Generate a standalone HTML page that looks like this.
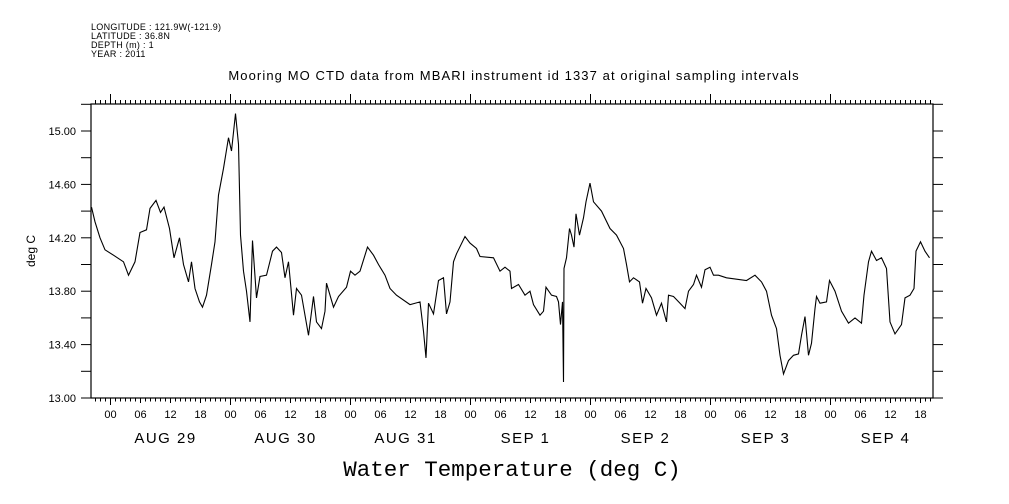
<!DOCTYPE html>
<html><head><meta charset="utf-8"><style>
body{margin:0;background:#fff;}
svg{display:block;font-family:"Liberation Sans",sans-serif;}
</style></head><body>
<svg id="chart" width="1009" height="504" viewBox="0 0 1009 504">
<g font-size="9" fill="#000" letter-spacing="0.3">
<text x="91" y="30">LONGITUDE : 121.9W(-121.9)</text>
<text x="91" y="39">LATITUDE : 36.8N</text>
<text x="91" y="48">DEPTH (m) : 1</text>
<text x="91" y="57">YEAR : 2011</text>
</g>
<text x="514" y="80" font-size="13" letter-spacing="1.1" text-anchor="middle">Mooring MO CTD data from MBARI instrument id 1337 at original sampling intervals</text>
<text transform="translate(35,251) rotate(-90)" font-size="12" text-anchor="middle">deg C</text>
<text x="512" y="476" font-family="Liberation Mono, monospace" font-size="22.5" text-anchor="middle">Water Temperature (deg C)</text>
<rect x="91" y="104" width="842" height="294" fill="none" stroke="#000" stroke-width="1.2"/>
<g id="axes"></g>
<polyline id="series" fill="none" stroke="#000" stroke-width="1.1"/>
</svg>
<script>
const hours=[-3.8,-3.1,-2.1,-1.1,0.6,2.6,3.6,4.9,5.9,7.2,7.9,9.1,10,10.7,11.8,12.7,13.8,14.6,15.6,16.2,16.9,17.8,18.4,19.2,20.2,20.9,21.6,22.6,23.6,24.2,25,25.6,26,26.6,27.2,27.9,28.4,29.2,29.9,31.2,32.4,33.2,34.2,34.9,35.6,36.6,37.2,38.2,39.6,40.6,41.2,42.2,42.9,43.2,44.6,45.6,47.2,48,48.9,49.9,51.4,52.6,53.6,54.9,55.9,57.2,59.9,61.9,62.6,63.1,63.6,64.6,65.6,66.6,67.2,67.9,68.6,69.2,70.9,71.9,73.2,73.9,76.6,77.9,78.9,79.9,80.2,81.6,82.9,83.9,84.6,85.9,86.6,87.1,88.2,89.2,89.6,90.0,90.4,90.6,90.7,91.2,91.8,92.2,92.7,93.1,93.8,94.6,95.1,95.9,96.6,98.2,99.9,101.2,102.6,103.2,103.8,104.6,105.8,106.4,107.1,108.2,109.2,110.2,111.2,111.6,112.6,113.9,114.9,115.6,116.6,117.2,118.2,118.9,119.9,120.6,121.6,123.2,127.2,128.9,130.2,131.2,132.2,133.2,133.9,134.6,135.6,136.6,137.6,138.2,138.9,139.6,140.2,140.9,141.2,141.9,143.2,143.8,144.9,146.2,147.6,148.9,150.2,150.7,151.6,152.2,153.2,154.2,155.2,155.9,156.9,158.2,158.9,159.9,160.7,161.1,162,162.9,163.8];
const temps=[14.43,14.32,14.20,14.11,14.07,14.02,13.92,14.02,14.24,14.26,14.42,14.48,14.39,14.43,14.27,14.05,14.20,14.00,13.87,14.02,13.82,13.72,13.68,13.77,14.00,14.17,14.52,14.72,14.95,14.85,15.13,14.90,14.22,13.95,13.80,13.57,14.18,13.75,13.91,13.92,14.10,14.13,14.09,13.90,14.02,13.62,13.82,13.77,13.47,13.76,13.57,13.52,13.65,13.86,13.68,13.76,13.83,13.95,13.92,13.95,14.13,14.07,14.00,13.92,13.82,13.77,13.70,13.72,13.50,13.30,13.71,13.63,13.88,13.90,13.63,13.72,14.02,14.08,14.21,14.16,14.12,14.06,14.05,13.95,13.98,13.95,13.82,13.85,13.77,13.80,13.70,13.62,13.65,13.83,13.77,13.76,13.72,13.55,13.72,13.12,13.97,14.05,14.27,14.22,14.13,14.38,14.22,14.35,14.47,14.61,14.47,14.40,14.27,14.22,14.12,14.00,13.87,13.90,13.87,13.71,13.82,13.75,13.62,13.71,13.57,13.77,13.76,13.71,13.67,13.80,13.85,13.92,13.83,13.96,13.98,13.92,13.92,13.90,13.88,13.92,13.87,13.80,13.62,13.52,13.32,13.18,13.28,13.32,13.33,13.47,13.61,13.32,13.41,13.67,13.76,13.71,13.72,13.88,13.80,13.65,13.56,13.60,13.56,13.77,14.02,14.10,14.03,14.05,13.97,13.57,13.48,13.55,13.75,13.77,13.82,14.10,14.17,14.10,14.05];
const yTicks=[13.0,13.4,13.8,14.2,14.6,15.0];
const yTickLabels=["13.00","13.40","13.80","14.20","14.60","15.00"];
const dayLabels=["AUG 29","AUG 30","AUG 31","SEP  1","SEP  2","SEP  3","SEP  4"];
const hourLabels=["00","06","12","18"];

const X0=91,X1=933,Y0=104,Y1=398;
function xs(h){return 110.5+h*5;}
function ys(v){return 398-(v-13)*133.5;}
const NS="http://www.w3.org/2000/svg";
const g=document.getElementById('axes');
function mk(tag,attrs,txt){const e=document.createElementNS(NS,tag);for(const k in attrs)e.setAttribute(k,attrs[k]);if(txt!==undefined)e.textContent=txt;g.appendChild(e);return e;}
let hmin=Math.ceil((X0-110.5)/5),hmax=Math.floor((X1-110.5)/5);
for(let h=hmin;h<=hmax;h++){
  const x=xs(h),day=((h%24)+24)%24===0,six=h%6===0;
  let t=mk('line',{x1:x,x2:x,y1:Y1,y2:Y1+(day?7:(six?5:3.5)),stroke:'#000'});
  
  
  let t2=mk('line',{x1:x,x2:x,y1:Y0,y2:Y0-(day?10:4),stroke:'#000'});
  
  
  if(six){
    const lbl=mk('text',{x:x,y:418,'font-size':11,'text-anchor':'middle'},hourLabels[((h%24)+24)%24/6]);
    
    
  }
}
dayLabels.forEach((d,i)=>{
  const t=mk('text',{x:xs(i*24+11),y:443,'font-size':15,'letter-spacing':1.5,'text-anchor':'middle','xml:space':'preserve'},d);
  
  
});
for(let v=13.0;v<=15.2001;v+=0.2){
  const y=ys(v);
  const a=mk('line',{x1:X0-10,x2:X0,y1:y,y2:y,stroke:'#000'});
  
  
  const b=mk('line',{x1:X1,x2:X1+10,y1:y,y2:y,stroke:'#000'});
  
  
}
yTicks.forEach((v,i)=>{
  const t=mk('text',{x:76,y:ys(v)+4,'font-size':11,'text-anchor':'end'},yTickLabels[i]);
  
  
});
document.getElementById('series').setAttribute('points',hours.map((h,i)=>xs(h).toFixed(1)+','+ys(temps[i]).toFixed(1)).join(' '));
</script>
</body></html>
